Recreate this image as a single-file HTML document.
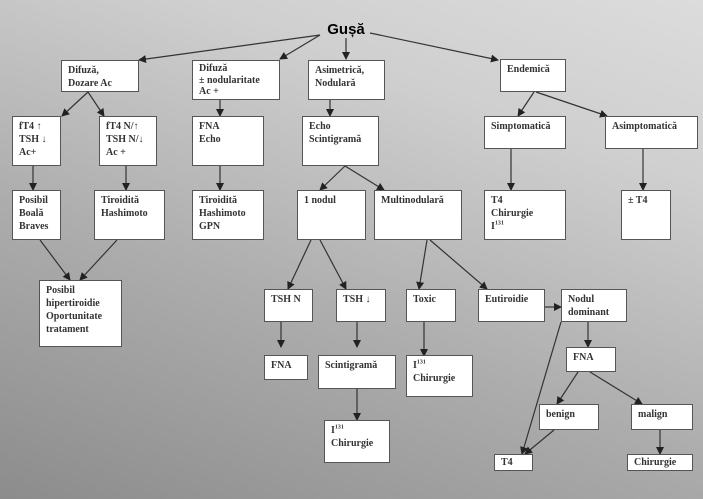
<!DOCTYPE html>
<html><head><meta charset="utf-8"><style>
body{margin:0}
#c{position:relative;width:703px;height:499px;overflow:hidden;background:linear-gradient(20deg,#8c8c8c 0%,#adadad 40%,#cfcfcf 75%,#dcdcdc 100%)}
.b{position:absolute;background:#fff;border:1.5px solid #555;box-sizing:border-box;font:bold 10px/13px "Liberation Serif",serif;color:#333;padding:3px 6px;white-space:nowrap}
svg{position:absolute;left:0;top:0}
sup{font-size:6px;line-height:0}
</style></head><body><div id="c">
<svg width="703" height="499">
<defs><marker id="a" markerWidth="8" markerHeight="8" refX="7" refY="4" orient="auto" markerUnits="userSpaceOnUse"><path d="M0,0L8,4L0,8z" fill="#222"/></marker></defs>
<g stroke="#333" stroke-width="1.2" marker-end="url(#a)">
<line x1="320" y1="35" x2="139" y2="60"/><line x1="320" y1="35" x2="280" y2="59"/><line x1="346" y1="38" x2="346" y2="59"/><line x1="370" y1="33" x2="498" y2="60"/>
<line x1="88" y1="92" x2="62" y2="116"/><line x1="88" y1="92" x2="104" y2="116"/>
<line x1="220" y1="100" x2="220" y2="116"/><line x1="220" y1="166" x2="220" y2="190"/>
<line x1="330" y1="100" x2="330" y2="116"/><line x1="345" y1="166" x2="320" y2="190"/><line x1="345" y1="166" x2="384" y2="190"/>
<line x1="534" y1="92" x2="518" y2="116"/><line x1="536" y1="92" x2="607" y2="116"/>
<line x1="511" y1="149" x2="511" y2="190"/><line x1="643" y1="149" x2="643" y2="190"/>
<line x1="33" y1="166" x2="33" y2="190"/><line x1="126" y1="166" x2="126" y2="190"/>
<line x1="40" y1="240" x2="70" y2="280"/><line x1="117" y1="240" x2="80" y2="280"/>
<line x1="311" y1="240" x2="288" y2="289"/><line x1="320" y1="240" x2="346" y2="289"/>
<line x1="427" y1="240" x2="419" y2="289"/><line x1="430" y1="240" x2="487" y2="289"/>
<line x1="281" y1="322" x2="281" y2="347"/><line x1="357" y1="322" x2="357" y2="347"/>
<line x1="424" y1="322" x2="424" y2="356"/><line x1="545" y1="307" x2="561" y2="307"/>
<line x1="588" y1="322" x2="588" y2="347"/><line x1="561" y1="322" x2="522" y2="454"/>
<line x1="578" y1="372" x2="557" y2="404"/><line x1="590" y1="372" x2="642" y2="404"/>
<line x1="554" y1="430" x2="525" y2="454"/><line x1="660" y1="430" x2="660" y2="454"/>
<line x1="357" y1="389" x2="357" y2="420"/>
</g>
<text x="346" y="34" text-anchor="middle" font-family="Liberation Sans,sans-serif" font-weight="bold" font-size="15" fill="#000">Gușă</text>
</svg>
<div class="b" style="left:61px;top:60px;width:78px;height:32px">Difuză,<br>Dozare Ac</div>
<div class="b" style="left:192px;top:60px;width:88px;height:40px;line-height:11.5px;padding-top:2px">Difuză<br>± nodularitate<br>Ac +</div>
<div class="b" style="left:308px;top:60px;width:77px;height:40px">Asimetrică,<br>Nodulară</div>
<div class="b" style="left:500px;top:59px;width:66px;height:33px">Endemică</div>
<div class="b" style="left:12px;top:116px;width:49px;height:50px">fT4 ↑<br>TSH ↓<br>Ac+</div>
<div class="b" style="left:99px;top:116px;width:58px;height:50px">fT4 N/↑<br>TSH N/↓<br>Ac +</div>
<div class="b" style="left:192px;top:116px;width:72px;height:50px">FNA<br>Echo</div>
<div class="b" style="left:302px;top:116px;width:77px;height:50px">Echo<br>Scintigramă</div>
<div class="b" style="left:484px;top:116px;width:82px;height:33px">Simptomatică</div>
<div class="b" style="left:605px;top:116px;width:93px;height:33px">Asimptomatică</div>
<div class="b" style="left:12px;top:190px;width:49px;height:50px">Posibil<br>Boală<br>Braves</div>
<div class="b" style="left:94px;top:190px;width:71px;height:50px">Tiroidită<br>Hashimoto</div>
<div class="b" style="left:192px;top:190px;width:72px;height:50px">Tiroidită<br>Hashimoto<br>GPN</div>
<div class="b" style="left:297px;top:190px;width:69px;height:50px">1 nodul</div>
<div class="b" style="left:374px;top:190px;width:88px;height:50px">Multinodulară</div>
<div class="b" style="left:484px;top:190px;width:82px;height:50px">T4<br>Chirurgie<br>I<sup>131</sup></div>
<div class="b" style="left:621px;top:190px;width:50px;height:50px">± T4</div>
<div class="b" style="left:39px;top:280px;width:83px;height:67px">Posibil<br>hipertiroidie<br>Oportunitate<br>tratament</div>
<div class="b" style="left:264px;top:289px;width:49px;height:33px">TSH N</div>
<div class="b" style="left:336px;top:289px;width:50px;height:33px">TSH ↓</div>
<div class="b" style="left:406px;top:289px;width:50px;height:33px">Toxic</div>
<div class="b" style="left:478px;top:289px;width:67px;height:33px">Eutiroidie</div>
<div class="b" style="left:561px;top:289px;width:66px;height:33px">Nodul<br>dominant</div>
<div class="b" style="left:264px;top:355px;width:44px;height:25px">FNA</div>
<div class="b" style="left:318px;top:355px;width:78px;height:34px">Scintigramă</div>
<div class="b" style="left:406px;top:355px;width:67px;height:42px">I<sup>131</sup><br>Chirurgie</div>
<div class="b" style="left:566px;top:347px;width:50px;height:25px">FNA</div>
<div class="b" style="left:539px;top:404px;width:60px;height:26px">benign</div>
<div class="b" style="left:631px;top:404px;width:62px;height:26px">malign</div>
<div class="b" style="left:324px;top:420px;width:66px;height:43px">I<sup>131</sup><br>Chirurgie</div>
<div class="b" style="left:494px;top:454px;width:39px;height:17px;line-height:10px">T4</div>
<div class="b" style="left:627px;top:454px;width:66px;height:17px;line-height:10px">Chirurgie</div>
</div></body></html>
